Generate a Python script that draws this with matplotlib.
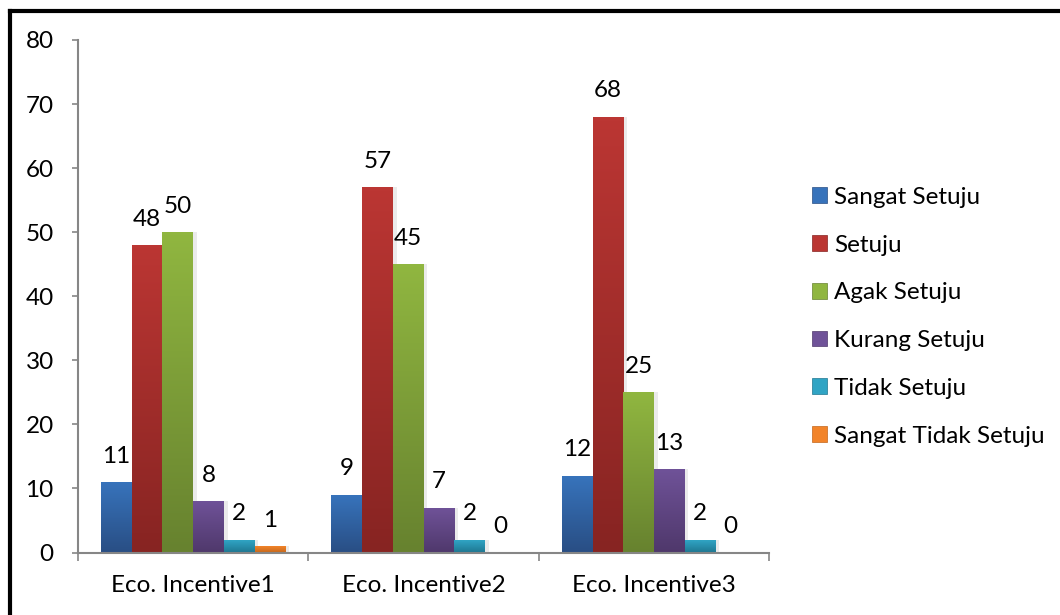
import numpy as np
import matplotlib.pyplot as plt
from matplotlib.patches import Patch
from matplotlib.lines import Line2D
from matplotlib.colors import LinearSegmentedColormap

plt.rcParams['font.family'] = ['Lato', 'DejaVu Sans']

categories = ["Eco. Incentive1", "Eco. Incentive2", "Eco. Incentive3"]
series = ["Sangat Setuju", "Setuju", "Agak Setuju", "Kurang Setuju",
          "Tidak Setuju", "Sangat Tidak Setuju"]
sangat_setuju = [11, 9, 12]
setuju = [48, 57, 68]
agak_setuju = [50, 45, 25]
kurang_setuju = [8, 7, 13]
tidak_setuju = [2, 2, 2]
sangat_tidak_setuju = [1, 0, 0]
values = [sangat_setuju, setuju, agak_setuju, kurang_setuju,
          tidak_setuju, sangat_tidak_setuju]

# (top, bottom) colours for the vertical gradient on each series
grad = [("#3773bb", "#294e84"),
        ("#bb3633", "#872422"),
        ("#90b640", "#67822f"),
        ("#6f5298", "#4f386b"),
        ("#30a4c4", "#1e7690"),
        ("#f2842a", "#c4661a")]

FS = 17.5

fig = plt.figure(figsize=(10.6, 6.15), dpi=100)
ax = fig.add_axes([0.0736, 0.1016, 0.652, 0.8334])

n = len(series)
width = 1 / 7.5
x = np.arange(len(categories))

for i, (name, vals) in enumerate(zip(series, values)):
    top, bot = grad[i]
    cmap = LinearSegmentedColormap.from_list(name, [bot, top])
    for j, v in enumerate(vals):
        x0 = x[j] - 0.5 + 0.75 * width + i * width
        if v > 0:
            # soft shadow to the right
            ax.bar(x0 + width * 0.12, v, width, bottom=0, align='edge',
                   color='#000000', alpha=0.08, zorder=1, linewidth=0)
            g = np.linspace(0, 1, 64).reshape(-1, 1)
            ax.imshow(g, cmap=cmap, origin='lower', aspect='auto',
                      extent=(x0, x0 + width, 0, v), zorder=2,
                      interpolation='bicubic')
        ax.annotate(str(v), (x0 + width / 2, v), xytext=(0, 14),
                    textcoords='offset points', ha='center', va='baseline',
                    fontsize=FS, color='black')

ax.set_xlim(-0.5, 2.5)
ax.set_ylim(0, 80)
ax.set_yticks(range(0, 81, 10))
ax.set_xticks([-0.5, 0.5, 1.5, 2.5], minor=False)
ax.set_xticklabels([])
ax.set_xticks(x, minor=True)
ax.set_xticklabels(categories, minor=True, fontsize=FS)
ax.tick_params(axis='x', which='minor', length=0, pad=16)
ax.tick_params(axis='x', which='major', length=6, color='#868686', width=1.2)
ax.tick_params(axis='y', length=4.5, color='#868686', width=1.2, labelsize=FS,
               pad=13)

for s in ['top', 'right']:
    ax.spines[s].set_visible(False)
for s in ['left', 'bottom']:
    ax.spines[s].set_color('#868686')
    ax.spines[s].set_linewidth(1.5)

handles = [Patch(facecolor=grad[i][0], edgecolor=grad[i][1], linewidth=0.5)
           for i in range(n)]
fig.legend(handles, series, loc='upper left', bbox_to_anchor=(0.757, 0.712),
           frameon=False, fontsize=FS, handlelength=0.62, handleheight=0.62,
           handletextpad=0.28, labelspacing=1.1, borderaxespad=0)

# thick frame round the chart area
fig.add_artist(Line2D([10 / 1060, 10 / 1060], [0, 1 - 10.5 / 615],
                      transform=fig.transFigure, color='black', linewidth=3,
                      solid_capstyle='projecting'))
fig.add_artist(Line2D([10 / 1060, 1], [1 - 10.5 / 615, 1 - 10.5 / 615],
                      transform=fig.transFigure, color='black', linewidth=3,
                      solid_capstyle='projecting'))

fig.savefig("out.png", dpi=100)
